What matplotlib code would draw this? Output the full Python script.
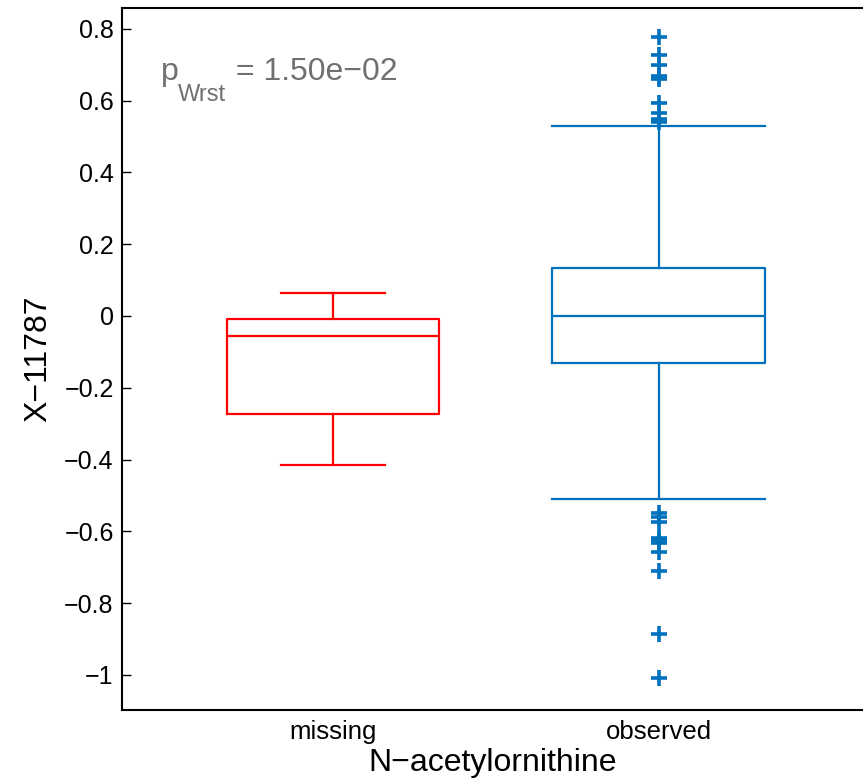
import matplotlib
matplotlib.use("Agg")
import matplotlib.pyplot as plt

plt.rcParams['font.family'] = ['Liberation Sans', 'DejaVu Sans']

# datos
grupos = ['missing', 'observed']
colores = ['#FF0000', '#0072BD']
mediana = [-0.056, 0.0]
q1 = [-0.273, -0.131]
q3 = [-0.008, 0.133]
bigote_inf = [-0.415, -0.511]
bigote_sup = [0.065, 0.528]
atipicos = [
    [],
    [0.778, 0.728, 0.699, 0.668, 0.660, 0.594, 0.565, 0.548, 0.541,
     -0.548, -0.559, -0.574, -0.618, -0.625, -0.632, -0.659, -0.711, -0.886, -1.009],
]
yticks = [-1, -0.8, -0.6, -0.4, -0.2, 0, 0.2, 0.4, 0.6, 0.8]
ylabels = ['\u22121', '\u22120.8', '\u22120.6', '\u22120.4', '\u22120.2', '0', '0.2', '0.4', '0.6', '0.8']
valor_p = '1.50e\u221202'

fig = plt.figure(figsize=(8.63, 7.81), dpi=100)
ax = fig.add_axes([0.1414, 0.0909, 0.8586, 0.8988])

stats = []
for i, g in enumerate(grupos):
    stats.append(dict(med=mediana[i], q1=q1[i], q3=q3[i], whislo=bigote_inf[i],
                      whishi=bigote_sup[i], fliers=atipicos[i], label=g))

for i, s in enumerate(stats):
    c = colores[i]
    cw = 0.32 if i == 0 else 0.653
    ax.bxp([s], positions=[i + 1], widths=0.653, capwidths=[cw],
           boxprops=dict(color=c, linewidth=1.6),
           medianprops=dict(color=c, linewidth=1.6),
           whiskerprops=dict(color=c, linewidth=1.6, linestyle='-'),
           capprops=dict(color=c, linewidth=1.6),
           flierprops=dict(marker='+', markeredgecolor=c, markersize=11, markeredgewidth=2.6))

ax.set_xlim(0.353, 2.626)
ax.set_ylim(-1.098, 0.858)
ax.set_yticks(yticks)
ax.set_yticklabels(ylabels, fontsize=18)
ax.set_xticks([1, 2])
ax.set_xticklabels(grupos, fontsize=18.5)
ax.tick_params(axis='y', direction='in', length=6.5, width=1, pad=6)
ax.tick_params(axis='x', length=0, pad=7)
ax.spines['right'].set_visible(False)
for sp in ['left', 'top', 'bottom']:
    ax.spines[sp].set_linewidth(1.5)

ax.set_xlabel('N\u2212acetylornithine', fontsize=23, labelpad=3)
ax.set_ylabel('X\u221211787', fontsize=23, labelpad=8)

# p-valor con subindice grande, como en el original
gris = '#707070'
xp, yp = 0.4724, 0.6576
ax.text(xp, yp, 'p', fontsize=23, color=gris, va='baseline')
ax.annotate('Wrst', xy=(xp, yp), xytext=(17, -21), textcoords='offset pixels',
            fontsize=17, color=gris, va='baseline')
ax.annotate('= ' + valor_p, xy=(xp, yp), xytext=(75, 0), textcoords='offset pixels',
            fontsize=23, color=gris, va='baseline')

fig.savefig('out.png', dpi=100)
